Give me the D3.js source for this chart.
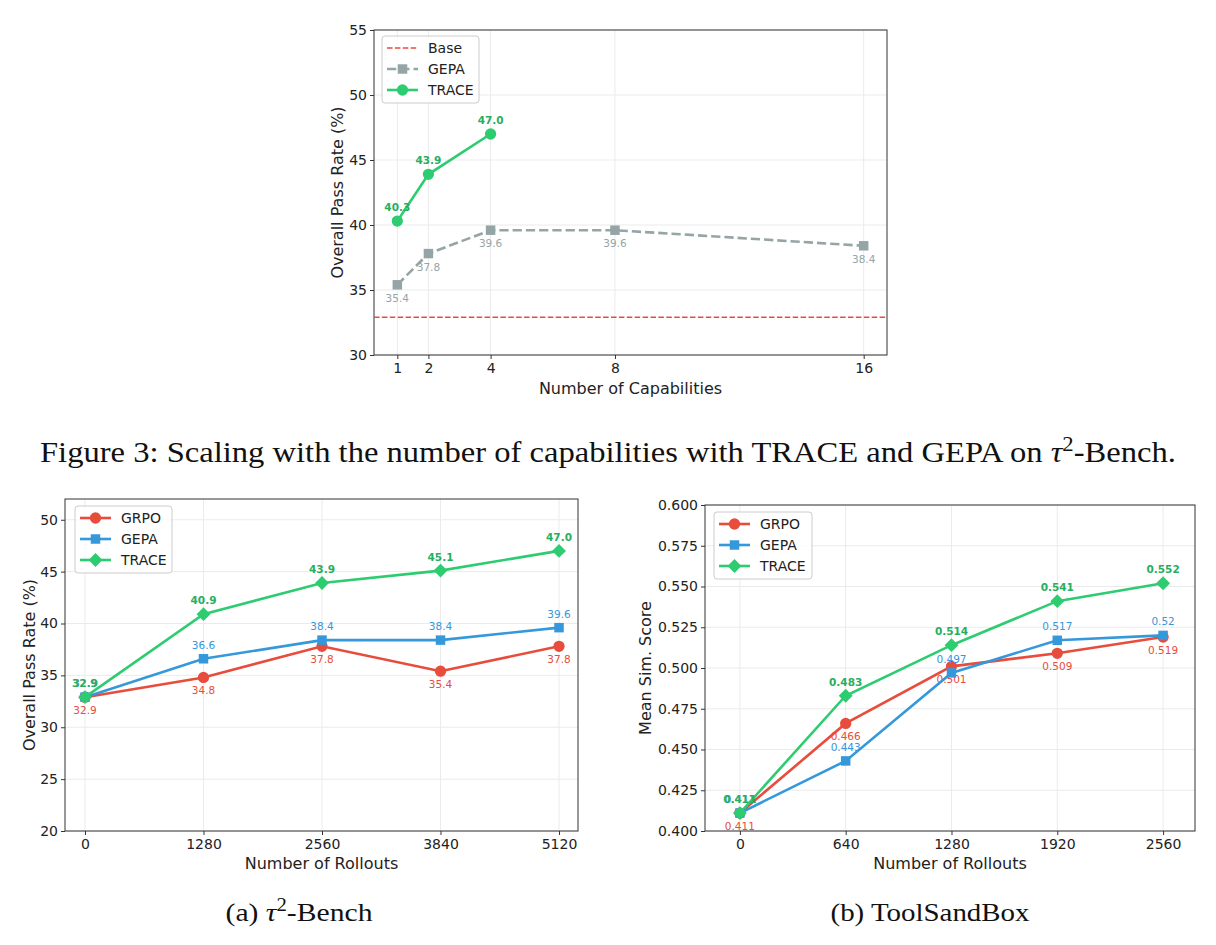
<!DOCTYPE html>
<html>
<head>
<meta charset="utf-8">
<title>TRACE scaling figures</title>
<script src="https://cdn.jsdelivr.net/npm/d3@7"></script>
<style>
    body { margin: 0; background: #fff; }
    text { font-family: "DejaVu Sans", sans-serif; fill: #222; }
    .caption { font-family: "Liberation Serif", serif; }
</style>
</head>
<body>
<svg id="fig" width="1216" height="945"></svg>
<script>
// ---- Figure 3: capabilities scaling ----
var capX = [1, 2, 4, 8, 16];
var capTraceX = [1, 2, 4];
var capTrace = [40.3, 43.9, 47.0];
var capGepa = [35.4, 37.8, 39.6, 39.6, 38.4];
var capBase = 32.9;
var capYTicks = [30, 35, 40, 45, 50, 55];

// ---- (a) tau2-Bench rollouts ----
var tauX = [0, 1280, 2560, 3840, 5120];
var tauGrpo = [32.9, 34.8, 37.8, 35.4, 37.8];
var tauGepa = [32.9, 36.6, 38.4, 38.4, 39.6];
var tauTrace = [32.9, 40.9, 43.9, 45.1, 47.0];
var tauYTicks = [20, 25, 30, 35, 40, 45, 50];

// ---- (b) ToolSandBox rollouts ----
var tsbX = [0, 640, 1280, 1920, 2560];
var tsbGrpo = [0.411, 0.466, 0.501, 0.509, 0.519];
var tsbGepa = [0.411, 0.443, 0.497, 0.517, 0.52];
var tsbTrace = [0.411, 0.483, 0.514, 0.541, 0.552];
var tsbYTicks = [0.400, 0.425, 0.450, 0.475, 0.500, 0.525, 0.550, 0.575, 0.600];

var RED = "#e74c3c", BLUE = "#3498db", GREEN = "#2ecc71", GRAY = "#95a5a6";

var svg = d3.select("#fig");

function markerPath(kind) {
    if (kind === "circle") return d3.symbol().type(d3.symbolCircle).size(100)();
    if (kind === "square") return d3.symbol().type(d3.symbolSquare).size(90)();
    return d3.symbol().type(d3.symbolSquare).size(96)(); // rotated for diamond
}

function drawMarker(g, kind, x, y, color) {
    g.append("path")
        .attr("d", markerPath(kind))
        .attr("transform", "translate(" + x + "," + y + ")" + (kind === "diamond" ? " rotate(45)" : ""))
        .attr("fill", color);
}

function drawPanel(o) {
    var g = svg.append("g");
    var x = d3.scaleLinear().domain(o.xDomain).range([o.left, o.right]);
    var y = d3.scaleLinear().domain(o.yDomain).range([o.bottom, o.top]);

    // grid
    g.selectAll(null).data(o.xTicks).enter().append("line")
        .attr("x1", d => x(d)).attr("x2", d => x(d))
        .attr("y1", o.top).attr("y2", o.bottom)
        .attr("stroke", "#ebebeb").attr("stroke-width", 1);
    g.selectAll(null).data(o.yTicks).enter().append("line")
        .attr("y1", d => y(d)).attr("y2", d => y(d))
        .attr("x1", o.left).attr("x2", o.right)
        .attr("stroke", "#ebebeb").attr("stroke-width", 1);

    // axes
    var xa = g.append("g").attr("transform", "translate(0," + o.bottom + ")")
        .call(d3.axisBottom(x).tickValues(o.xTicks).tickSize(4).tickPadding(4).tickFormat(d3.format("d")));
    var ya = g.append("g").attr("transform", "translate(" + o.left + ",0)")
        .call(d3.axisLeft(y).tickValues(o.yTicks).tickSize(4).tickPadding(3).tickFormat(o.yFormat));
    [xa, ya].forEach(function (a) {
        a.select(".domain").remove();
        a.selectAll("line").attr("stroke", "#333");
        a.selectAll("text").attr("font-size", 14).attr("fill", "#222")
            .attr("font-family", "DejaVu Sans, sans-serif");
    });
    g.append("rect").attr("x", o.left).attr("y", o.top)
        .attr("width", o.right - o.left).attr("height", o.bottom - o.top)
        .attr("fill", "none").attr("stroke", "#333").attr("stroke-width", 1);

    g.append("text").attr("x", (o.left + o.right) / 2).attr("y", o.xLabelY)
        .attr("text-anchor", "middle").attr("font-size", 16).text(o.xLabel);
    g.append("text").attr("transform", "translate(" + o.yLabelX + "," + (o.top + o.bottom) / 2 + ") rotate(-90)")
        .attr("text-anchor", "middle").attr("dy", "0.35em").attr("font-size", 16).text(o.yLabel);

    // base line
    if (o.base != null) {
        g.append("line").attr("x1", o.left).attr("x2", o.right)
            .attr("y1", y(o.base)).attr("y2", y(o.base))
            .attr("stroke", RED).attr("stroke-width", 1.5).attr("stroke-dasharray", "5.5,2.4");
    }

    var line = d3.line().x(d => x(d[0])).y(d => y(d[1]));
    o.series.forEach(function (s) {
        var pts = s.xs.map((v, i) => [v, s.ys[i]]);
        g.append("path").attr("d", line(pts)).attr("fill", "none")
            .attr("stroke", s.color).attr("stroke-width", 2.6)
            .attr("stroke-dasharray", s.dash || null);
        pts.forEach(p => drawMarker(g, s.marker, x(p[0]), y(p[1]), s.color));
        pts.forEach(function (p) {
            g.append("text").attr("x", x(p[0]))
                .attr("y", y(p[1]) + (s.above ? -10 : 17))
                .attr("text-anchor", "middle").attr("font-size", 10.5)
                .attr("font-weight", s.bold ? "bold" : "normal")
                .style("fill", s.labelColor || s.color)
                .text(o.valueFormat(p[1]));
        });
    });

    // legend
    var L = o.legend;
    var lg = g.append("g");
    lg.append("rect").attr("x", L.x).attr("y", L.y).attr("width", L.w).attr("height", L.h)
        .attr("rx", 3).attr("fill", "#fff").attr("fill-opacity", 0.8)
        .attr("stroke", "#cccccc").attr("stroke-width", 1);
    L.items.forEach(function (it, i) {
        var cy = L.y + 12 + i * 21;
        var x0 = L.x + 5, x1 = L.x + 36;
        lg.append("line").attr("x1", x0).attr("x2", x1).attr("y1", cy).attr("y2", cy)
            .attr("stroke", it.color).attr("stroke-width", it.width || 2.6)
            .attr("stroke-dasharray", it.dash || null);
        if (it.marker) drawMarker(lg, it.marker, (x0 + x1) / 2, cy, it.color);
        lg.append("text").attr("x", L.x + 46).attr("y", cy).attr("dy", "0.35em")
            .attr("font-size", 14).text(it.name);
    });
}

// Figure 3 panel
drawPanel({
    left: 374, right: 887, top: 30, bottom: 355,
    xDomain: [0.25, 16.75], yDomain: [30, 55],
    xTicks: capX, yTicks: capYTicks, yFormat: d3.format("d"),
    valueFormat: d3.format(".1f"),
    xLabel: "Number of Capabilities", xLabelY: 394,
    yLabel: "Overall Pass Rate (%)", yLabelX: 337,
    base: capBase,
    series: [
        { xs: capX, ys: capGepa, color: GRAY, marker: "square", dash: "9.25,4", above: false },
        { xs: capTraceX, ys: capTrace, color: GREEN, marker: "circle", above: true, bold: true, labelColor: "#27ae60" }
    ],
    legend: { x: 382, y: 36, w: 97, h: 67, items: [
        { name: "Base", color: RED, dash: "5.5,2.4", width: 1.5 },
        { name: "GEPA", color: GRAY, dash: "9.25,4", marker: "square" },
        { name: "TRACE", color: GREEN, marker: "circle" }
    ] }
});

// (a) tau2-Bench
drawPanel({
    left: 65, right: 578, top: 499, bottom: 831,
    xDomain: [-216, 5325], yDomain: [20, 52],
    xTicks: tauX, yTicks: tauYTicks, yFormat: d3.format("d"),
    valueFormat: d3.format(".1f"),
    xLabel: "Number of Rollouts", xLabelY: 869,
    yLabel: "Overall Pass Rate (%)", yLabelX: 29,
    series: [
        { xs: tauX, ys: tauGrpo, color: RED, marker: "circle", above: false },
        { xs: tauX, ys: tauGepa, color: BLUE, marker: "square", above: true },
        { xs: tauX, ys: tauTrace, color: GREEN, marker: "diamond", above: true, bold: true, labelColor: "#27ae60" }
    ],
    legend: { x: 75, y: 506, w: 97, h: 67, items: [
        { name: "GRPO", color: RED, marker: "circle" },
        { name: "GEPA", color: BLUE, marker: "square" },
        { name: "TRACE", color: GREEN, marker: "diamond" }
    ] }
});

// (b) ToolSandBox
drawPanel({
    left: 705, right: 1195, top: 505, bottom: 831,
    xDomain: [-211, 2753], yDomain: [0.4, 0.6],
    xTicks: tsbX, yTicks: tsbYTicks, yFormat: d3.format(".3f"),
    valueFormat: function (v) { return String(v); },
    xLabel: "Number of Rollouts", xLabelY: 869,
    yLabel: "Mean Sim. Score", yLabelX: 645,
    series: [
        { xs: tsbX, ys: tsbGrpo, color: RED, marker: "circle", above: false },
        { xs: tsbX, ys: tsbGepa, color: BLUE, marker: "square", above: true },
        { xs: tsbX, ys: tsbTrace, color: GREEN, marker: "diamond", above: true, bold: true, labelColor: "#27ae60" }
    ],
    legend: { x: 714, y: 512, w: 98, h: 67, items: [
        { name: "GRPO", color: RED, marker: "circle" },
        { name: "GEPA", color: BLUE, marker: "square" },
        { name: "TRACE", color: GREEN, marker: "diamond" }
    ] }
});

// captions (serif, stretched to the width of the original Palatino text)
function caption(xc, yb, size, width, parts) {
    var t = svg.append("text").attr("class", "caption").attr("x", xc).attr("y", yb)
        .attr("text-anchor", "middle").attr("font-size", size).style("fill", "#111");
    parts.forEach(function (p) {
        var s = t.append("tspan").text(p.t);
        if (p.italic) s.attr("font-style", "italic");
        if (p.sup) s.attr("font-size", size * 0.7).attr("dy", -size * 0.38);
        if (p.down) s.attr("dy", size * 0.38);
    });
    t.attr("textLength", width).attr("lengthAdjust", "spacingAndGlyphs");
}
caption(608, 462, 29, 1136, [
    { t: "Figure 3: Scaling with the number of capabilities with TRACE and GEPA on " },
    { t: "\u03c4", italic: true }, { t: "2", sup: true }, { t: "-Bench.", down: true }
]);
caption(299, 921, 26, 147, [
    { t: "(a) " }, { t: "\u03c4", italic: true }, { t: "2", sup: true }, { t: "-Bench", down: true }
]);
caption(930, 921, 26, 199, [{ t: "(b) ToolSandBox" }]);
</script>
</body>
</html>
